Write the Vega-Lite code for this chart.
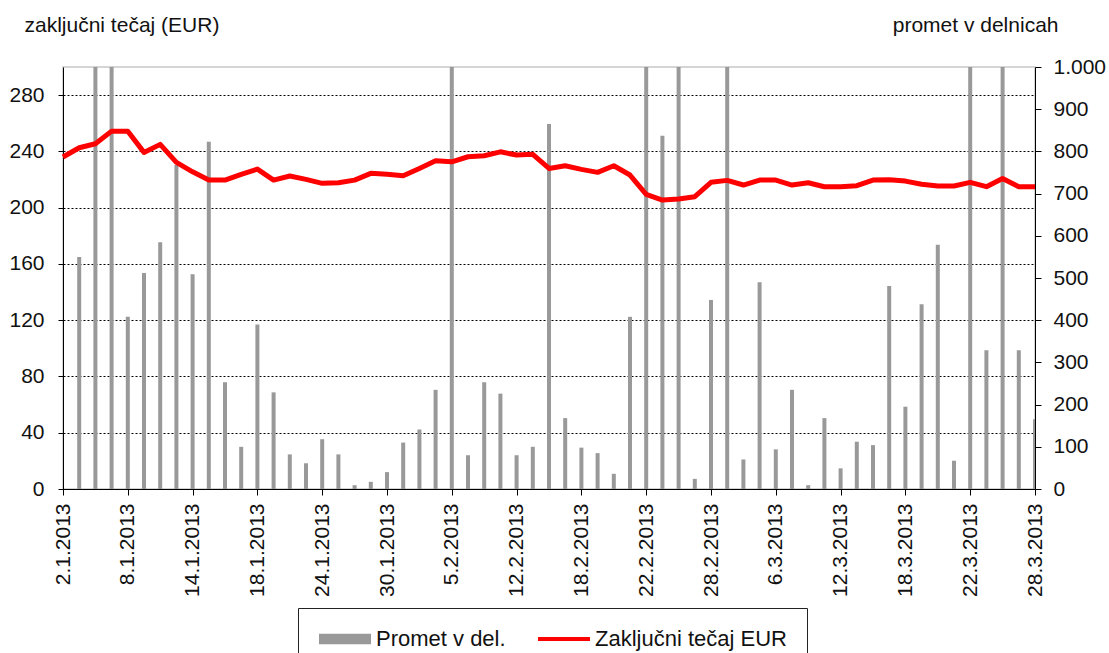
{
  "$schema": "https://vega.github.io/schema/vega-lite/v6.json",
  "width": 972,
  "height": 422,
  "autosize": {"type": "none"},
  "padding": {"left": 63, "top": 67, "right": 74, "bottom": 164},
  "background": "white",
  "config": {
    "font": "Liberation Sans",
    "view": {"stroke": "#c8c8c8", "strokeWidth": 1.5},
    "axis": {"labelColor": "#111", "titleColor": "#111", "domainColor": "#000", "tickColor": "#000", "labelFontSize": 21, "titleFontSize": 21, "titleFontWeight": "normal"}
  },
  "data": {"values": [
    {"d": "2.1.2013", "v": 0, "p": 236.0},
    {"d": "3.1.2013", "v": 550, "p": 242.6},
    {"d": "4.1.2013", "v": 1200, "p": 245.4},
    {"d": "7.1.2013", "v": 1300, "p": 254.4},
    {"d": "8.1.2013", "v": 408, "p": 254.4},
    {"d": "9.1.2013", "v": 512, "p": 239.3},
    {"d": "10.1.2013", "v": 585, "p": 245.0},
    {"d": "11.1.2013", "v": 768, "p": 232.2},
    {"d": "14.1.2013", "v": 509, "p": 225.5},
    {"d": "15.1.2013", "v": 823, "p": 219.6},
    {"d": "16.1.2013", "v": 253, "p": 219.6},
    {"d": "17.1.2013", "v": 100, "p": 223.7},
    {"d": "18.1.2013", "v": 390, "p": 227.4},
    {"d": "21.1.2013", "v": 229, "p": 219.6},
    {"d": "22.1.2013", "v": 82, "p": 222.5},
    {"d": "23.1.2013", "v": 61, "p": 220.1},
    {"d": "24.1.2013", "v": 118, "p": 217.3},
    {"d": "25.1.2013", "v": 82, "p": 217.7},
    {"d": "28.1.2013", "v": 9, "p": 219.6},
    {"d": "29.1.2013", "v": 17, "p": 224.4},
    {"d": "30.1.2013", "v": 40, "p": 223.7},
    {"d": "31.1.2013", "v": 110, "p": 222.7},
    {"d": "1.2.2013", "v": 141, "p": 227.9},
    {"d": "4.2.2013", "v": 235, "p": 233.3},
    {"d": "5.2.2013", "v": 1500, "p": 232.6},
    {"d": "6.2.2013", "v": 80, "p": 236.2},
    {"d": "7.2.2013", "v": 253, "p": 236.9},
    {"d": "11.2.2013", "v": 226, "p": 239.7},
    {"d": "12.2.2013", "v": 80, "p": 237.4},
    {"d": "13.2.2013", "v": 100, "p": 237.9},
    {"d": "14.2.2013", "v": 865, "p": 227.9},
    {"d": "15.2.2013", "v": 168, "p": 229.8},
    {"d": "18.2.2013", "v": 98, "p": 227.2},
    {"d": "19.2.2013", "v": 85, "p": 225.1},
    {"d": "20.2.2013", "v": 36, "p": 229.8},
    {"d": "21.2.2013", "v": 408, "p": 223.2},
    {"d": "22.2.2013", "v": 1200, "p": 209.4},
    {"d": "25.2.2013", "v": 837, "p": 205.4},
    {"d": "26.2.2013", "v": 1200, "p": 206.1},
    {"d": "27.2.2013", "v": 24, "p": 207.8},
    {"d": "28.2.2013", "v": 448, "p": 218.0},
    {"d": "1.3.2013", "v": 1200, "p": 219.4},
    {"d": "4.3.2013", "v": 70, "p": 216.1},
    {"d": "5.3.2013", "v": 490, "p": 219.6},
    {"d": "6.3.2013", "v": 94, "p": 219.6},
    {"d": "7.3.2013", "v": 235, "p": 216.1},
    {"d": "8.3.2013", "v": 9, "p": 217.7},
    {"d": "11.3.2013", "v": 168, "p": 214.9},
    {"d": "12.3.2013", "v": 49, "p": 214.9},
    {"d": "13.3.2013", "v": 112, "p": 215.6},
    {"d": "14.3.2013", "v": 104, "p": 219.6},
    {"d": "15.3.2013", "v": 481, "p": 219.8},
    {"d": "18.3.2013", "v": 195, "p": 218.9},
    {"d": "19.3.2013", "v": 438, "p": 216.6},
    {"d": "20.3.2013", "v": 579, "p": 215.4},
    {"d": "21.3.2013", "v": 67, "p": 215.4},
    {"d": "22.3.2013", "v": 1200, "p": 218.0},
    {"d": "25.3.2013", "v": 329, "p": 214.9},
    {"d": "26.3.2013", "v": 1200, "p": 220.8},
    {"d": "27.3.2013", "v": 329, "p": 214.9},
    {"d": "28.3.2013", "v": 165, "p": 214.9}
  ]},
  "encoding": {
    "x": {
      "field": "d", "type": "ordinal", "sort": null,
      "scale": {"type": "point", "padding": 0},
      "axis": {
        "title": null, "labelAngle": -90, "tickSize": 6, "labelPadding": 8,
        "values": ["2.1.2013", "8.1.2013", "14.1.2013", "18.1.2013", "24.1.2013", "30.1.2013", "5.2.2013", "12.2.2013", "18.2.2013", "22.2.2013", "28.2.2013", "6.3.2013", "12.3.2013", "18.3.2013", "22.3.2013", "28.3.2013"],
        "grid": false, "labelOverlap": false
      }
    }
  },
  "layer": [
    {
      "mark": {"type": "bar", "size": 4, "clip": true},
      "encoding": {
        "y": {
          "field": "v", "type": "quantitative",
          "scale": {"domain": [0, 1000], "nice": false},
          "axis": {
            "orient": "right", "title": "promet v delnicah", "titleAngle": 0,
            "titleX": 23, "titleY": -36, "titleAlign": "right", "titleBaseline": "alphabetic",
            "values": [0, 100, 200, 300, 400, 500, 600, 700, 800, 900, 1000],
            "labelExpr": "datum.value == 1000 ? '1.000' : datum.label",
            "tickSize": 6, "labelPadding": 12, "grid": false
          }
        },
        "color": {
          "datum": "Promet v del.", "type": "nominal",
          "scale": {"domain": ["Promet v del.", "Zaključni tečaj EUR"], "range": ["#999999", "#ff0000"]},
          "legend": {
            "title": null, "orient": "none", "direction": "horizontal",
            "legendX": 235, "legendY": 541,
            "padding": 20, "strokeColor": "#222",
            "symbolSize": 2704, "symbolOffset": 16, "labelFontSize": 22, "labelColor": "#111", "labelOffset": 20,
            "columnPadding": 24, "labelLimit": 400,
            "encode": {
              "symbols": {
                "update": {
                  "shape": {"signal": "datum.value === 'Promet v del.' ? 'M-1,-0.2H1V0.2H-1Z' : 'stroke'"},
                  "fill": {"signal": "datum.value === 'Promet v del.' ? '#999999' : 'transparent'"},
                  "stroke": {"signal": "datum.value === 'Promet v del.' ? 'transparent' : '#ff0000'"},
                  "strokeWidth": {"signal": "datum.value === 'Promet v del.' ? 0 : 4"},
                  "opacity": {"value": 1}
                }
              }
            }
          }
        }
      }
    },
    {
      "mark": {"type": "line", "strokeWidth": 5, "strokeJoin": "round"},
      "encoding": {
        "y": {
          "field": "p", "type": "quantitative",
          "scale": {"domain": [0, 300], "nice": false},
          "axis": {
            "orient": "left", "title": "zaključni tečaj (EUR)", "titleAngle": 0,
            "titleX": -39, "titleY": -36, "titleAlign": "left", "titleBaseline": "alphabetic",
            "values": [0, 40, 80, 120, 160, 200, 240, 280],
            "tickSize": 5, "labelPadding": 14,
            "grid": true, "gridColor": "#000", "gridDash": [2, 2], "gridWidth": 1
          }
        },
        "color": {"datum": "Zaključni tečaj EUR", "type": "nominal"}
      }
    }
  ],
  "resolve": {"scale": {"y": "independent"}}
}
